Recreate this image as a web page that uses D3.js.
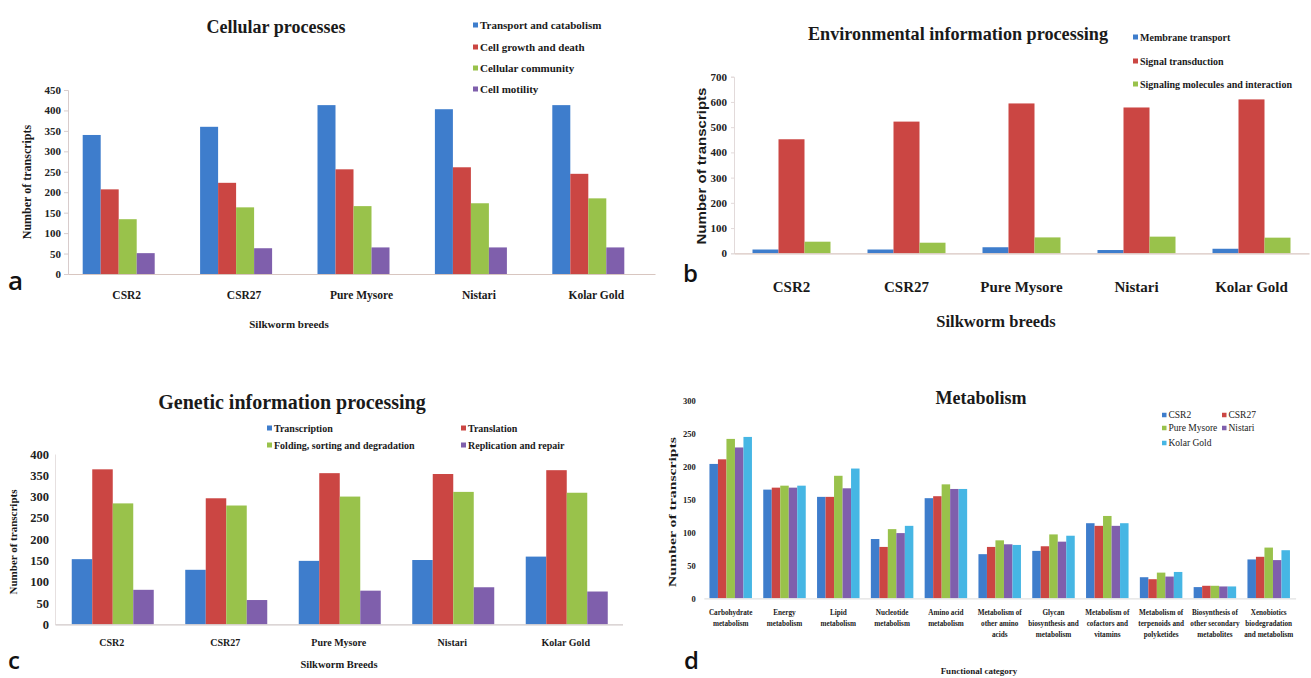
<!DOCTYPE html>
<html>
<head>
<meta charset="utf-8">
<script src="https://cdn.jsdelivr.net/npm/d3@7"></script>
<style>
  html, body { margin: 0; padding: 0; background: #fff; }
  svg { display: block; }
</style>
</head>
<body>
<svg id="fig" width="1311" height="678"></svg>
<script>
// ---- Shared categories ----
const breeds = ["CSR2", "CSR27", "Pure Mysore", "Nistari", "Kolar Gold"];

// ---- (a) Cellular processes ----
const cellularSeries = ["Transport and catabolism", "Cell growth and death", "Cellular community", "Cell motility"];
const transportCatabolism = [340, 360, 413, 403, 413];
const cellGrowthDeath = [207, 223, 256, 261, 245];
const cellularCommunity = [134, 163, 166, 173, 185];
const cellMotility = [51, 63, 65, 65, 65];
const cellularTicks = [0, 50, 100, 150, 200, 250, 300, 350, 400, 450];

// ---- (b) Environmental information processing ----
const environmentalSeries = ["Membrane transport", "Signal transduction", "Signaling molecules and interaction"];
const membraneTransport = [15, 15, 24, 13, 18];
const signalTransduction = [452, 522, 594, 578, 610];
const signalingMolecules = [46, 42, 63, 66, 62];
const environmentalTicks = [0, 100, 200, 300, 400, 500, 600, 700];

// ---- (c) Genetic information processing ----
const geneticSeries = ["Transcription", "Translation", "Folding, sorting and degradation", "Replication and repair"];
const transcription = [153, 128, 149, 151, 159];
const translation = [364, 296, 355, 353, 362];
const foldingSorting = [284, 279, 300, 311, 309];
const replicationRepair = [81, 57, 79, 87, 77];
const geneticTicks = [0, 50, 100, 150, 200, 250, 300, 350, 400];

// ---- (d) Metabolism ----
const metabolismCategories = [
  ["Carbohydrate", "metabolism"],
  ["Energy", "metabolism"],
  ["Lipid", "metabolism"],
  ["Nucleotide", "metabolism"],
  ["Amino acid", "metabolism"],
  ["Metabolism of", "other amino", "acids"],
  ["Glycan", "biosynthesis and", "metabolism"],
  ["Metabolism of", "cofactors and", "vitamins"],
  ["Metabolism of", "terpenoids and", "polyketides"],
  ["Biosynthesis of", "other secondary", "metabolites"],
  ["Xenobiotics", "biodegradation", "and metabolism"]
];
const csr2Metabolism = [204, 165, 154, 90, 152, 67, 72, 114, 32, 17, 59];
const csr27Metabolism = [211, 168, 154, 78, 155, 78, 79, 110, 29, 19, 63];
const pureMysoreMetabolism = [242, 171, 186, 105, 173, 88, 97, 125, 39, 19, 77];
const nistariMetabolism = [229, 168, 167, 99, 166, 82, 86, 110, 33, 18, 58];
const kolarGoldMetabolism = [245, 171, 197, 110, 166, 81, 95, 114, 40, 18, 73];
const metabolismTicks = [0, 50, 100, 150, 200, 250, 300];

// ---- Palette ----
const BLUE = "#3E7DCC", RED = "#CB4643", GREEN = "#99C24B", PURPLE = "#7F5FAC", CYAN = "#46B6E4";
const SERIF = "'Liberation Serif', 'Times New Roman', serif";
const SANS = "'Liberation Sans', Arial, sans-serif";
const LETTER = "'Open Sans', 'Noto Sans', sans-serif";

const svg = d3.select("#fig");
svg.append("rect").attr("width", 1311).attr("height", 678).attr("fill", "#fff");

// Generic grouped bar panel
function groupedBars(opt) {
  const g = svg.append("g");
  const x = d3.scaleBand().domain(d3.range(opt.categories.length))
    .range(opt.xRange).paddingInner(0).paddingOuter(0);
  const y = d3.scaleLinear().domain(opt.yDomain).range(opt.yRange);
  const inner = d3.scaleBand().domain(d3.range(opt.values.length))
    .range([-opt.groupWidth / 2, opt.groupWidth / 2]);

  // y axis
  const ya = g.append("g")
    .attr("transform", `translate(${opt.xRange[0]},0)`)
    .call(d3.axisLeft(y).tickValues(opt.ticks).tickSize(opt.tickSize).tickPadding(opt.tickPadding).tickFormat(d3.format("d")));
  ya.select(".domain").attr("stroke", opt.yAxisColor).attr("stroke-width", 1);
  ya.selectAll(".tick line").attr("stroke", opt.yAxisColor);
  ya.selectAll(".tick text")
    .attr("font-family", opt.tickFont || SERIF).attr("font-weight", "bold")
    .attr("font-size", opt.tickFontSize).attr("fill", "#222");

  // bars
  opt.values.forEach((series, s) => {
    g.append("g").selectAll("rect").data(series).join("rect")
      .attr("x", (d, i) => x(i) + x.bandwidth() / 2 + (opt.groupShift || 0) + inner(s))
      .attr("y", d => y(d))
      .attr("width", inner.bandwidth())
      .attr("height", d => y(0) - y(d))
      .attr("fill", opt.colors[s]);
  });

  // x axis baseline and category labels
  const xa = g.append("g")
    .attr("transform", `translate(0,${opt.yRange[0]})`)
    .call(d3.axisBottom(x).tickSize(0).tickPadding(0).tickFormat(() => ""));
  xa.select(".domain").attr("stroke", opt.xAxisColor).attr("stroke-width", 1.2);
  xa.selectAll(".tick text").remove();
  xa.selectAll(".tick").each(function (d) {
    const lines = [].concat(opt.categories[d]);
    const t = d3.select(this).append("text")
      .attr("text-anchor", "middle")
      .attr("font-family", SERIF).attr("font-weight", "bold")
      .attr("font-size", opt.catFontSize).attr("fill", "#1a1a1a");
    lines.forEach((ln, k) => {
      t.append("tspan").attr("x", 0).attr("y", opt.catOffset + k * (opt.catLineHeight || 0)).text(ln);
    });
  });
  return { g, x, y };
}

function legend(items, colors, positions, fontSize, weight, family, sq) {
  const lg = svg.append("g");
  items.forEach((name, i) => {
    const [px, py] = positions[i];
    lg.append("rect").attr("x", px).attr("y", py - sq / 2).attr("width", sq).attr("height", sq).attr("fill", colors[i]);
    lg.append("text").attr("x", px + sq + 2).attr("y", py).attr("dy", "0.35em")
      .attr("font-family", family).attr("font-weight", weight).attr("font-size", fontSize)
      .attr("fill", "#1a1a1a").text(name);
  });
}

function label(txt, x, y, size, opts = {}) {
  const t = svg.append("text").attr("x", x).attr("y", y)
    .attr("text-anchor", opts.anchor || "middle")
    .attr("font-family", opts.family || SERIF)
    .attr("font-weight", opts.weight || "bold")
    .attr("font-size", size).attr("fill", opts.fill || "#1a1a1a")
    .text(txt);
  if (opts.rotate) t.attr("transform", `rotate(-90,${x},${y})`);
  if (opts.length) t.attr("textLength", opts.length).attr("lengthAdjust", "spacingAndGlyphs");
  return t;
}

// ---------- (a) ----------
groupedBars({
  categories: breeds,
  values: [transportCatabolism, cellGrowthDeath, cellularCommunity, cellMotility],
  colors: [BLUE, RED, GREEN, PURPLE],
  xRange: [68, 655], yRange: [274, 90], yDomain: [0, 450], ticks: cellularTicks,
  groupWidth: 72, groupShift: -8,
  tickSize: 4, tickPadding: 3, tickFontSize: 11,
  yAxisColor: "#d8cccc", xAxisColor: "#d8c6c0",
  catFontSize: 11.5, catOffset: 25
});
label("Cellular processes", 276, 33, 18);
label("Number of transcripts", 31, 182, 12, { rotate: true });
label("Silkworm breeds", 289, 328, 11);
legend(cellularSeries, [BLUE, RED, GREEN, PURPLE],
  [[473, 25], [473, 47], [473, 68], [473, 89]], 11, "bold", SERIF, 5);
label("a", 8, 290, 26, { anchor: "start", family: LETTER, weight: 600, fill: "#111" });

// ---------- (b) ----------
groupedBars({
  categories: breeds,
  values: [membraneTransport, signalTransduction, signalingMolecules],
  colors: [BLUE, RED, GREEN],
  xRange: [734, 1309], yRange: [253.3, 76.7], yDomain: [0, 700], ticks: environmentalTicks,
  groupWidth: 78, groupShift: 0,
  tickSize: 3, tickPadding: 4, tickFontSize: 11,
  yAxisColor: "#e2dada", xAxisColor: "#d8c6c0",
  catFontSize: 15, catOffset: 39
});
label("Environmental information processing", 958, 40, 19, { length: 300 });
label("Number of transcripts", 706, 166, 12.5, { rotate: true, family: SANS, length: 157 });
label("Silkworm breeds", 996, 327, 16.5);
legend(environmentalSeries, [BLUE, RED, GREEN],
  [[1133, 37], [1133, 61], [1133, 84]], 10, "bold", SERIF, 5);
label("b", 683, 282, 24, { anchor: "start", family: LETTER, weight: 600, fill: "#111" });

// ---------- (c) ----------
groupedBars({
  categories: breeds,
  values: [transcription, translation, foldingSorting, replicationRepair],
  colors: [BLUE, RED, GREEN, PURPLE],
  xRange: [55, 622.5], yRange: [624.3, 454], yDomain: [0, 400], ticks: geneticTicks,
  groupWidth: 82, groupShift: 1,
  tickSize: 0, tickPadding: 6, tickFontSize: 12.5,
  yAxisColor: "#e6e0e0", xAxisColor: "#d0c8c8",
  catFontSize: 10, catOffset: 22
});
label("Genetic information processing", 292, 409, 20);
label("Number of transcripts", 17, 542, 11, { rotate: true });
label("Silkworm Breeds", 339, 668, 10.5);
legend(geneticSeries, [BLUE, RED, GREEN, PURPLE],
  [[267, 428], [461, 428], [267, 445], [461, 445]], 10, "bold", SERIF, 5);
label("c", 8, 669, 24, { anchor: "start", family: LETTER, weight: 600, fill: "#111" });

// ---------- (d) ----------
groupedBars({
  categories: metabolismCategories,
  values: [csr2Metabolism, csr27Metabolism, pureMysoreMetabolism, nistariMetabolism, kolarGoldMetabolism],
  colors: [BLUE, RED, GREEN, PURPLE, CYAN],
  xRange: [703.8, 1295.6], yRange: [598.3, 400.7], yDomain: [0, 300], ticks: metabolismTicks,
  groupWidth: 42.5, groupShift: 0,
  tickSize: 0, tickPadding: 8, tickFontSize: 8.5,
  yAxisColor: "none", xAxisColor: "#e2e2e2",
  catFontSize: 7.2, catOffset: 16.5, catLineHeight: 11
});
label("Metabolism", 981, 404, 18);
label("Number of transcripts", 676, 512, 10, { rotate: true, length: 150 });
label("Functional category", 979, 674, 9);
legend(breeds, [BLUE, RED, GREEN, PURPLE, CYAN],
  [[1162, 415], [1222, 415], [1162, 428], [1222, 428], [1162, 443]], 9.5, "normal", SERIF, 4.5);
label("d", 684, 669, 24, { anchor: "start", family: LETTER, weight: 600, fill: "#111" });
</script>
</body>
</html>
